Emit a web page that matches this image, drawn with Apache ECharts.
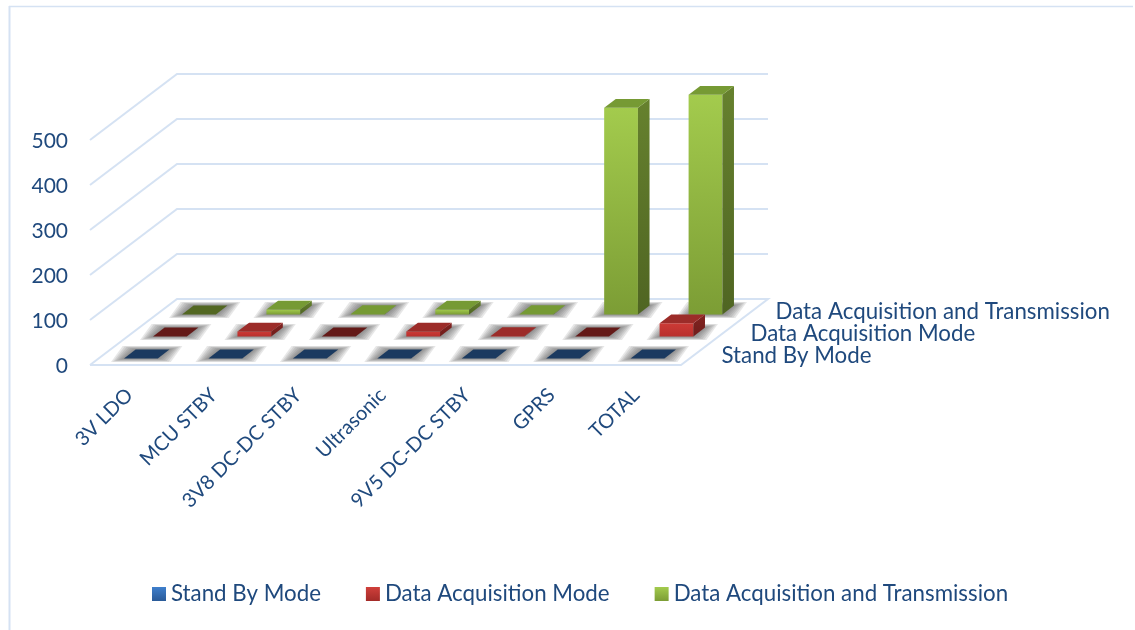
<!DOCTYPE html>
<html>
<head>
<meta charset="utf-8">
<style>html,body{margin:0;padding:0;background:#fff}#c{width:1135px;height:630px}</style>
<script src="https://cdn.jsdelivr.net/npm/echarts@6/dist/echarts.min.js"></script>
</head>
<body>
<div id="c"></div>
<script>
const categories = ['3V LDO', 'MCU STBY', '3V8 DC-DC STBY', 'Ultrasonic', '9V5 DC-DC STBY', 'GPRS', 'TOTAL'];
const seriesNames = ['Stand By Mode', 'Data Acquisition Mode', 'Data Acquisition and Transmission'];
const standBy = [0, 0, 0, 0, 0, 0, 0];
const acquisition = [0, 11, 0, 11, 1, 0, 29];
const transmission = [0, 11, 1, 11, 1, 459, 488];
const yTicks = [0, 100, 200, 300, 400, 500];

const FONT = 'Lato';
const TEXT = '#1F497D';
const GRID = '#D5E2F3';
const DEPTH = [87, -66];
const ROWS = 3;
const GAP = 0.3, BAR = 0.4;
const LABEL_GAP = [26, 26, 22];

const vg = (a, b) => ({type: 'linear', x: 0, y: 0, x2: 0, y2: 1, colorStops: [{offset: 0, color: a}, {offset: 1, color: b}]});

const palettes = [
  {flat: '#1B3A60', top: '#2A5A96', f1: '#3A76C4', f2: '#2C5C9C', s1: '#234A7C', s2: '#1B3A60', legend: vg('#3F7FCC', '#2A5A98')},
  {flat: '#641A18', top: '#9C2C29', f1: '#CC3A36', f2: '#B9302D', s1: '#822321', s2: '#701D1B', legend: vg('#D0403B', '#A32B28')},
  {flat: '#536722', top: '#769A34', f1: '#A3CB4D', f2: '#7C9D35', s1: '#66812E', s2: '#4F6522', legend: vg('#A3CB4D', '#7C9D35')}
];

function poly(points, fill, extra) {
  return {type: 'polygon', shape: {points}, style: Object.assign({fill}, extra || {})};
}

function barRenderer(row) {
  const pal = palettes[row];
  return function (params, api) {
    const i = api.value(0), v = api.value(1);
    const base = api.coord([i, 0]), head = api.coord([i, v]);
    const band = api.size([1, 0])[0];
    const off = (row + GAP) / ROWS;
    const dx = DEPTH[0] / ROWS * BAR, dy = DEPTH[1] / ROWS * BAR;
    const x0 = base[0] - band / 2 + GAP * band + DEPTH[0] * off;
    const x1 = x0 + BAR * band;
    const yb = base[1] + DEPTH[1] * off;
    const yt = head[1] + DEPTH[1] * off;
    const children = [];
    [13, 11, 9, 7, 5, 3, 1].forEach(function (k) {
      const h = k * 0.28;
      children.push(poly([[x0 - k, yb + h], [x1 + k, yb + h], [x1 + dx + k, yb + dy - h], [x0 + dx - k, yb + dy - h]],
        'rgba(95,95,95,0.15)'));
    });
    if (v === 0) {
      children.push(poly([[x0, yb], [x1, yb], [x1 + dx, yb + dy], [x0 + dx, yb + dy]], pal.flat));
    } else {
      children.push(poly([[x0, yb], [x1, yb], [x1, yt], [x0, yt]], vg(pal.f1, pal.f2)));
      children.push(poly([[x1, yb], [x1 + dx, yb + dy], [x1 + dx, yt + dy], [x1, yt]], vg(pal.s1, pal.s2)));
      children.push(poly([[x0, yt], [x1, yt], [x1 + dx, yt + dy], [x0 + dx, yt + dy]], pal.top));
    }
    return {type: 'group', children};
  };
}

function gridRenderer(params, api) {
  const v = api.value(1);
  const p = api.coord([0, v]);
  const r = params.coordSys;
  const xl = r.x, xr = r.x + r.width, y = p[1];
  const pts = v === 0
    ? [[xl, y], [xl + DEPTH[0], y + DEPTH[1]], [xr + DEPTH[0], y + DEPTH[1]], [xr, y], [xl, y]]
    : [[xl, y], [xl + DEPTH[0], y + DEPTH[1]], [xr + DEPTH[0], y + DEPTH[1]]];
  return {type: 'polyline', shape: {points: pts}, style: {fill: null, stroke: GRID, lineWidth: 2}};
}

function depthLabelRenderer(params, api) {
  const row = params.dataIndex;
  const p = api.coord([0, 0]);
  const r = params.coordSys;
  const f = (row + 0.5) / ROWS;
  return {
    type: 'text',
    style: {
      x: r.x + r.width + DEPTH[0] * f + LABEL_GAP[row],
      y: p[1] + DEPTH[1] * f + 2,
      text: seriesNames[row],
      fill: TEXT,
      fontSize: 22.3,
      fontFamily: FONT,
      textAlign: 'left',
      textVerticalAlign: 'middle'
    }
  };
}

const chart = echarts.init(document.getElementById('c'), null, {renderer: 'canvas'});
chart.setOption({
  animation: false,
  backgroundColor: '#fff',
  textStyle: {fontFamily: FONT},
  graphic: [
    {type: 'line', shape: {x1: 9, y1: 6.5, x2: 1133, y2: 6.5}, style: {stroke: GRID, lineWidth: 1.5}},
    {type: 'line', shape: {x1: 9.5, y1: 6, x2: 9.5, y2: 630}, style: {stroke: GRID, lineWidth: 2}}
  ],
  grid: {left: 90, top: 140, width: 591, height: 225},
  xAxis: {
    type: 'category',
    data: categories,
    axisLine: {show: false},
    axisTick: {show: false},
    splitLine: {show: false},
    axisLabel: {interval: 0, rotate: 45, margin: 24, padding: [0, 4, 0, 0], color: TEXT, fontSize: 20, fontFamily: FONT}
  },
  yAxis: {
    type: 'value',
    min: 0,
    max: 500,
    interval: 100,
    axisLine: {show: false},
    axisTick: {show: false},
    splitLine: {show: false},
    axisLabel: {margin: 22, verticalAlign: 'top', padding: [-9, 0, 0, 0], color: TEXT, fontSize: 21, fontFamily: FONT}
  },
  legend: {
    left: 152,
    top: 583,
    padding: 0,
    itemWidth: 14,
    itemHeight: 14,
    itemGap: 45,
    textStyle: {color: TEXT, fontSize: 22.3, fontFamily: FONT},
    selectedMode: false,
    data: seriesNames.map((name, i) => ({name, icon: 'rect', itemStyle: {color: palettes[i].legend}}))
  },
  series: [
    {type: 'custom', name: 'grid', z: 1, silent: true, renderItem: gridRenderer,
     encode: {x: 0, y: 1}, data: yTicks.map(t => [0, t])},
    {type: 'custom', name: 'depth labels', z: 1, silent: true, renderItem: depthLabelRenderer,
     encode: {x: 0, y: 1}, data: seriesNames.map(() => [0, 0])},
    {type: 'custom', name: seriesNames[2], z: 3, renderItem: barRenderer(2), encode: {x: 0, y: 1},
     itemStyle: {color: palettes[2].f1}, data: transmission.map((v, i) => [i, v])},
    {type: 'custom', name: seriesNames[1], z: 4, renderItem: barRenderer(1), encode: {x: 0, y: 1},
     itemStyle: {color: palettes[1].f1}, data: acquisition.map((v, i) => [i, v])},
    {type: 'custom', name: seriesNames[0], z: 5, renderItem: barRenderer(0), encode: {x: 0, y: 1},
     itemStyle: {color: palettes[0].f1}, data: standBy.map((v, i) => [i, v])}
  ]
});
</script>
</body>
</html>
